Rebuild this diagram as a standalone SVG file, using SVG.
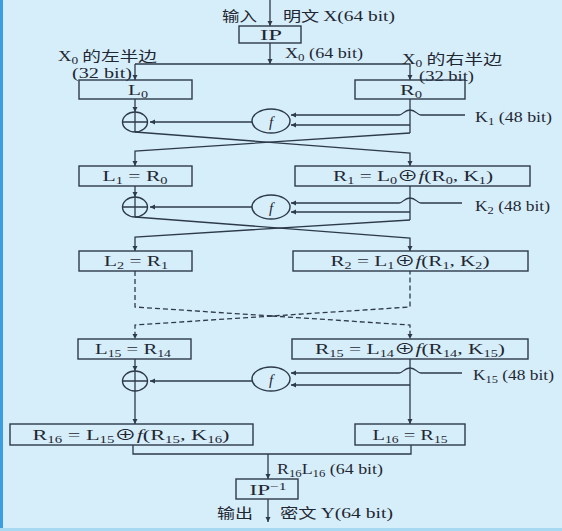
<svg xmlns="http://www.w3.org/2000/svg" width="562" height="531" viewBox="0 0 562 531">
<style>
.bg{fill:#d6eef9}
.box{fill:none;stroke:#2d3a4a;stroke-width:1.4}
.ln{fill:none;stroke:#2d3a4a;stroke-width:1.3}
.dash{fill:none;stroke:#2d3a4a;stroke-width:1.3;stroke-dasharray:5 3}
.arr{marker-end:url(#ah)}
text{font-family:"Liberation Serif","Noto Sans CJK SC",serif;font-size:15px;fill:#1f2733}
.cjk{font-family:"Noto Sans CJK SC","Liberation Sans",sans-serif;font-size:14px}
.sb{font-size:10px}
.it{font-style:italic}
.lbl{font-size:14px}
</style>
<defs>
<marker id="ah" markerUnits="userSpaceOnUse" markerWidth="6" markerHeight="6" refX="5" refY="3" orient="auto">
<path d="M0,0.5 L5,3 L0,5.5 z" fill="#2d3a4a"/>
</marker>
</defs>
<rect class="bg" x="0" y="0" width="562" height="531"/>
<rect x="0" y="0" width="3" height="531" fill="#3d9de3"/>
<rect x="0" y="528" width="562" height="3" fill="#a8d9f2"/>

<g id="connectors">
<path class="ln arr" d="M270,0 V26"/>
<path class="ln arr" d="M270,43 V64"/>
<path class="ln" d="M135,64 H410"/>
<path class="ln arr" d="M135,64 V80"/>
<path class="ln arr" d="M410,64 V80"/>
<path class="ln arr" d="M135,99 V112"/>
<path class="ln" d="M410,99 V133"/>
<path class="ln arr" d="M465,115 H421 C417,115 416,110 410,110 C404,110 403,115 399,115 H291"/>
<path class="ln arr" d="M410,125 H291"/>
<path class="ln arr" d="M252,122 H150"/>
<path class="ln arr" d="M135,132 L410,153 V166"/>
<path class="ln arr" d="M410,133 L135,151 V166"/>

<path class="ln arr" d="M135,186 V197"/>
<path class="ln" d="M410,186 V220"/>
<path class="ln arr" d="M462,203 H421 C417,203 416,198 410,198 C404,198 403,203 399,203 H291"/>
<path class="ln arr" d="M410,212 H291"/>
<path class="ln arr" d="M252,207 H150"/>
<path class="ln arr" d="M135,217 L410,238 V251"/>
<path class="ln arr" d="M410,220 L135,237 V251"/>

<path class="dash" d="M135,271 V307 L272,316 L410,307 V271"/>
<path class="dash arr" d="M272,316 L135,325 V339"/>
<path class="dash arr" d="M272,316 L410,325 V339"/>

<path class="ln arr" d="M135,359 V371"/>
<path class="ln arr" d="M410,359 V424"/>
<path class="ln arr" d="M462,373 H421 C417,373 416,368 410,368 C404,368 403,373 399,373 H291"/>
<path class="ln arr" d="M410,385 H291"/>
<path class="ln arr" d="M252,381 H150"/>
<path class="ln arr" d="M135,391 V424"/>

<path class="ln" d="M133,445 V454 H411 V445"/>
<path class="ln arr" d="M268,454 V479"/>
<path class="ln arr" d="M268,499 V522"/>
</g>

<g id="input-label">
<text class="cjk" x="222" y="21" textLength="35" lengthAdjust="spacingAndGlyphs">输入</text>
<text x="283" y="21" textLength="112" lengthAdjust="spacingAndGlyphs"><tspan class="cjk">明文 </tspan>X(64 bit)</text>
</g>

<g id="IP">
<rect class="box" x="239" y="26" width="62" height="17"/>
<text x="271" y="40" text-anchor="middle" textLength="22" lengthAdjust="spacingAndGlyphs">IP</text>
</g>

<g id="x0-labels">
<text class="lbl" x="285" y="58" textLength="78" lengthAdjust="spacingAndGlyphs">X<tspan class="sb" dy="3">0</tspan><tspan dy="-3"> (64 bit)</tspan></text>
<text class="lbl" x="58" y="61" textLength="99" lengthAdjust="spacingAndGlyphs">X<tspan class="sb" dy="3">0</tspan><tspan class="cjk" dy="-3"> 的左半边</tspan></text>
<text class="lbl" x="72" y="78" textLength="60" lengthAdjust="spacingAndGlyphs">(32 bit)</text>
<text class="lbl" x="402" y="64" textLength="100" lengthAdjust="spacingAndGlyphs">X<tspan class="sb" dy="3">0</tspan><tspan class="cjk" dy="-3"> 的右半边</tspan></text>
<text class="lbl" x="419" y="81" textLength="55" lengthAdjust="spacingAndGlyphs">(32 bit)</text>
</g>

<g id="L0">
<rect class="box" x="79" y="80" width="113" height="19"/>
<text x="138" y="95" text-anchor="middle" textLength="20" lengthAdjust="spacingAndGlyphs">L<tspan class="sb" dy="3">0</tspan></text>
</g>
<g id="R0">
<rect class="box" x="355" y="80" width="110" height="19"/>
<text x="411" y="95" text-anchor="middle" textLength="22" lengthAdjust="spacingAndGlyphs">R<tspan class="sb" dy="3">0</tspan></text>
</g>

<g id="xor1">
<ellipse class="box" cx="135" cy="122" rx="12.5" ry="10"/>
<path class="ln" d="M122.5,122 H147.5 M135,112 V132"/>
</g>
<g id="f1">
<ellipse class="box" cx="271" cy="121" rx="19" ry="12"/>
<text class="it" x="271" y="127" text-anchor="middle" font-size="17">f</text>
</g>
<g id="K1">
<text class="lbl" x="475" y="122" textLength="77" lengthAdjust="spacingAndGlyphs">K<tspan class="sb" dy="3">1</tspan><tspan dy="-3"> (48 bit)</tspan></text>
</g>

<g id="L1">
<rect class="box" x="79" y="166" width="113" height="20"/>
<text x="135" y="181" text-anchor="middle" textLength="65" lengthAdjust="spacingAndGlyphs">L<tspan class="sb" dy="3">1</tspan><tspan dy="-3"> = R</tspan><tspan class="sb" dy="3">0</tspan></text>
</g>
<g id="R1">
<rect class="box" x="295" y="166" width="235" height="20"/>
<text x="413" y="181" text-anchor="middle" textLength="160" lengthAdjust="spacingAndGlyphs">R<tspan class="sb" dy="3">1</tspan><tspan dy="-3"> = L</tspan><tspan class="sb" dy="3">0</tspan><tspan dy="-3">⊕</tspan><tspan class="it">f</tspan>(R<tspan class="sb" dy="3">0</tspan><tspan dy="-3">, K</tspan><tspan class="sb" dy="3">1</tspan><tspan dy="-3">)</tspan></text>
</g>

<g id="xor2">
<ellipse class="box" cx="135" cy="207" rx="12.5" ry="10"/>
<path class="ln" d="M122.5,207 H147.5 M135,197 V217"/>
</g>
<g id="f2">
<ellipse class="box" cx="271" cy="207" rx="19" ry="12"/>
<text class="it" x="271" y="213" text-anchor="middle" font-size="17">f</text>
</g>
<g id="K2">
<text class="lbl" x="475" y="211" textLength="75" lengthAdjust="spacingAndGlyphs">K<tspan class="sb" dy="3">2</tspan><tspan dy="-3"> (48 bit)</tspan></text>
</g>

<g id="L2">
<rect class="box" x="79" y="251" width="113" height="20"/>
<text x="136" y="266" text-anchor="middle" textLength="64" lengthAdjust="spacingAndGlyphs">L<tspan class="sb" dy="3">2</tspan><tspan dy="-3"> = R</tspan><tspan class="sb" dy="3">1</tspan></text>
</g>
<g id="R2">
<rect class="box" x="293" y="251" width="235" height="20"/>
<text x="410" y="266" text-anchor="middle" textLength="159" lengthAdjust="spacingAndGlyphs">R<tspan class="sb" dy="3">2</tspan><tspan dy="-3"> = L</tspan><tspan class="sb" dy="3">1</tspan><tspan dy="-3">⊕</tspan><tspan class="it">f</tspan>(R<tspan class="sb" dy="3">1</tspan><tspan dy="-3">, K</tspan><tspan class="sb" dy="3">2</tspan><tspan dy="-3">)</tspan></text>
</g>

<g id="L15">
<rect class="box" x="78" y="339" width="113" height="20"/>
<text x="133" y="354" text-anchor="middle" textLength="76" lengthAdjust="spacingAndGlyphs">L<tspan class="sb" dy="3">15</tspan><tspan dy="-3"> = R</tspan><tspan class="sb" dy="3">14</tspan></text>
</g>
<g id="R15">
<rect class="box" x="292" y="339" width="236" height="20"/>
<text x="410" y="354" text-anchor="middle" textLength="190" lengthAdjust="spacingAndGlyphs">R<tspan class="sb" dy="3">15</tspan><tspan dy="-3"> = L</tspan><tspan class="sb" dy="3">14</tspan><tspan dy="-3">⊕</tspan><tspan class="it">f</tspan>(R<tspan class="sb" dy="3">14</tspan><tspan dy="-3">, K</tspan><tspan class="sb" dy="3">15</tspan><tspan dy="-3">)</tspan></text>
</g>

<g id="xor3">
<ellipse class="box" cx="135" cy="381" rx="12.5" ry="10"/>
<path class="ln" d="M122.5,381 H147.5 M135,371 V391"/>
</g>
<g id="f3">
<ellipse class="box" cx="271" cy="379" rx="19" ry="12"/>
<text class="it" x="271" y="385" text-anchor="middle" font-size="17">f</text>
</g>
<g id="K15">
<text class="lbl" x="473" y="380" textLength="81" lengthAdjust="spacingAndGlyphs">K<tspan class="sb" dy="3">15</tspan><tspan dy="-3"> (48 bit)</tspan></text>
</g>

<g id="R16">
<rect class="box" x="10" y="424" width="243" height="21"/>
<text x="131" y="440" text-anchor="middle" textLength="197" lengthAdjust="spacingAndGlyphs">R<tspan class="sb" dy="3">16</tspan><tspan dy="-3"> = L</tspan><tspan class="sb" dy="3">15</tspan><tspan dy="-3">⊕</tspan><tspan class="it">f</tspan>(R<tspan class="sb" dy="3">15</tspan><tspan dy="-3">, K</tspan><tspan class="sb" dy="3">16</tspan><tspan dy="-3">)</tspan></text>
</g>
<g id="L16">
<rect class="box" x="355" y="424" width="110" height="21"/>
<text x="410" y="440" text-anchor="middle" textLength="75" lengthAdjust="spacingAndGlyphs">L<tspan class="sb" dy="3">16</tspan><tspan dy="-3"> = R</tspan><tspan class="sb" dy="3">15</tspan></text>
</g>

<g id="out-label-mid">
<text class="lbl" x="277" y="474" textLength="106" lengthAdjust="spacingAndGlyphs">R<tspan class="sb" dy="3">16</tspan><tspan dy="-3">L</tspan><tspan class="sb" dy="3">16</tspan><tspan dy="-3"> (64 bit)</tspan></text>
</g>

<g id="IPinv">
<rect class="box" x="236" y="479" width="62" height="20"/>
<text x="268" y="495" text-anchor="middle" textLength="37" lengthAdjust="spacingAndGlyphs">IP<tspan class="sb" dy="-5">−1</tspan></text>
</g>

<g id="output-label">
<text class="cjk" x="217" y="518" textLength="36" lengthAdjust="spacingAndGlyphs">输出</text>
<text x="280" y="518" textLength="113" lengthAdjust="spacingAndGlyphs"><tspan class="cjk">密文 </tspan>Y(64 bit)</text>
</g>
</svg>
